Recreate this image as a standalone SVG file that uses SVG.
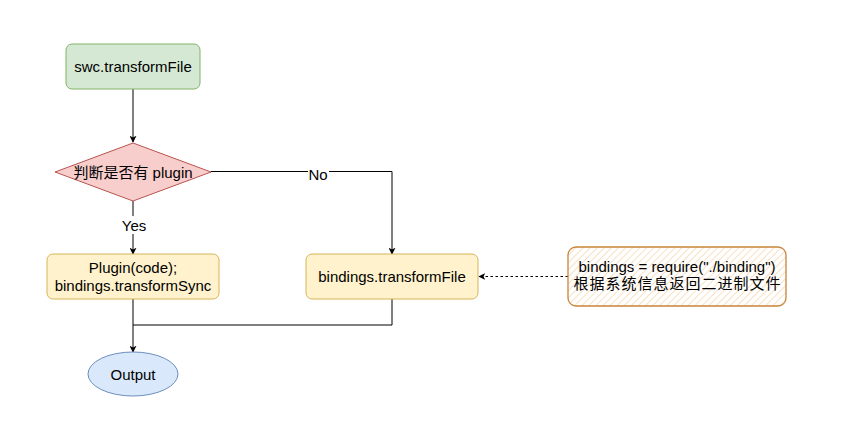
<svg xmlns="http://www.w3.org/2000/svg" width="843" height="432" viewBox="0 0 843 432">
  <style>
    text { font-family: "Liberation Sans", Arial, "Noto Sans CJK SC", sans-serif; font-size: 15px; fill: #000; text-anchor: middle; dominant-baseline: central; }
    .edge { fill: none; stroke: #000; stroke-width: 1; }
    .dash { stroke-dasharray: 2.5 2.5; }
    .lbl { fill: #fff; }
  </style>
  <defs>
    <marker id="arr" viewBox="0 0 10 10" refX="9" refY="5" markerWidth="7" markerHeight="7" markerUnits="userSpaceOnUse" orient="auto">
      <path d="M0,0 L10,5 L0,10 L2.5,5 z" fill="#000"/>
    </marker>
    <pattern id="hatch" patternUnits="userSpaceOnUse" width="5" height="5" patternTransform="rotate(-45)">
      <rect width="5" height="5" fill="#fff"/>
      <line x1="0" y1="2.5" x2="5" y2="2.5" stroke="#f8e0c4" stroke-width="1"/>
    </pattern>
  </defs>

  <rect width="843" height="432" fill="#fff"/>

  <g id="connectors">
    <path class="edge" d="M133,89 L133,142" marker-end="url(#arr)"/>
    <path class="edge" d="M133,201 L133,254" marker-end="url(#arr)"/>
    <path class="edge" d="M211,171.5 L392,171.5 L392,254" marker-end="url(#arr)"/>
    <path class="edge" d="M133,299 L133,352" marker-end="url(#arr)"/>
    <path class="edge" d="M392,299 L392,325 L133,325"/>
    <path class="edge dash" d="M568,276.5 L479,276.5" marker-end="url(#arr)"/>
    <rect class="lbl" x="122" y="216" width="24" height="18"/>
    <text x="134" y="225">Yes</text>
    <rect class="lbl" x="308" y="165" width="21" height="18"/>
    <text x="318" y="174">No</text>
  </g>

  <g id="swc-transformFile">
    <rect x="66" y="44" width="134" height="45" rx="6" fill="#d5e8d4" stroke="#82b366"/>
    <text x="133" y="66.5">swc.transformFile</text>
  </g>

  <g id="has-plugin">
    <polygon points="133,143 211,172 133,201 55,172" stroke-linejoin="round" fill="#f8cecc" stroke="#b85450"/>
    <text x="133" y="172">判断是否有 plugin</text>
  </g>

  <g id="plugin-code">
    <rect x="47" y="254" width="172" height="45" rx="6" fill="#fff2cc" stroke="#d6b656"/>
    <text x="133" y="267.5">Plugin(code);</text>
    <text x="133" y="285">bindings.transformSync</text>
  </g>

  <g id="bindings-transformFile">
    <rect x="306" y="254" width="172" height="45" rx="6" fill="#fff2cc" stroke="#d6b656"/>
    <text x="392" y="276.5">bindings.transformFile</text>
  </g>

  <g id="output">
    <ellipse cx="133" cy="374" rx="45" ry="22" fill="#dae8fc" stroke="#6c8ebf"/>
    <text x="133" y="374">Output</text>
  </g>

  <g id="binding-note">
    <rect x="568" y="247" width="218" height="59" rx="8" fill="url(#hatch)" stroke="#c8843a" stroke-width="1.3"/>
    <text x="677" y="266.5">bindings = require("./binding")</text>
    <text x="677.5" y="283.5" style="letter-spacing:1px">根据系统信息返回二进制文件</text>
  </g>
</svg>
